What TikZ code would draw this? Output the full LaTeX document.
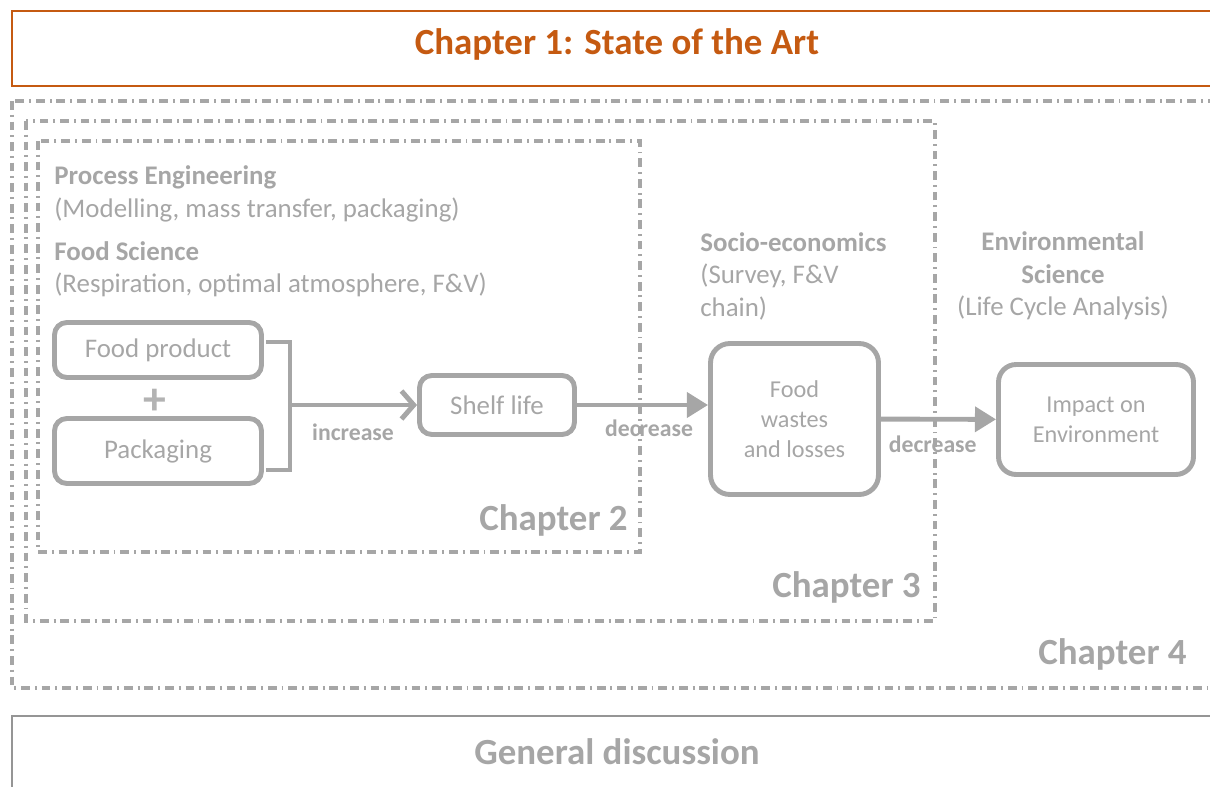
\documentclass[tikz,border=0pt]{standalone}
\usepackage{fontspec}
\setmainfont{Carlito}
\usetikzlibrary{arrows.meta}
\definecolor{chgray}{HTML}{A6A6A6}
\definecolor{chorange}{HTML}{C55A11}

\begin{document}
\begin{tikzpicture}[x=0.02cm,y=-0.02cm,
  main node/.style={draw=chgray,line width=2.8pt,rounded corners=7pt,text=chgray,align=center,font=\fontsize{15.3}{17}\selectfont},
  chap frame/.style={draw=chgray,line width=1.9pt,dash pattern=on 5pt off 2.8pt on 1.1pt off 2.8pt},
  chap label/.style={anchor=east,inner sep=0pt,text=chgray,font=\fontsize{21}{24}\selectfont\bfseries},
  topic/.style={inner sep=0pt,text=chgray,font=\fontsize{15.3}{18.5}\selectfont},
  lbl/.style={text=chgray,font=\fontsize{13.5}{15}\selectfont\bfseries},
  flow/.style={draw=chgray,line width=2.8pt}]

    \useasboundingbox (0,0) rectangle (1210,787);
    \clip (0,0) rectangle (1210,787);

    % chapter frames
    \draw[draw=chorange,line width=1.1pt] (12,11) rectangle (1240,86);
    \node[text=chorange,font=\fontsize{21}{24}\selectfont\bfseries] (t) at (617,44) {Chapter 1: State of the Art};
    \draw[chap frame] (12,101) rectangle (1240,688);
    \draw[chap frame] (26,121) rectangle (935,621);
    \draw[chap frame] (38,141) rectangle (640,552);
    \node[chap label] (c2) at (628,520) {Chapter 2};
    \node[chap label] (c3) at (921,587) {Chapter 3};
    \node[chap label] (c4) at (1187,654) {Chapter 4};
    \draw[draw=chgray!90!black,line width=1.1pt] (12,716) rectangle (1240,820);
    \node[text=chgray,font=\fontsize{21}{24}\selectfont\bfseries] (g) at (617,752) {General discussion};

    % disciplines
    \node[topic,anchor=west,align=left] (pe) at (54,194) {\textbf{Process Engineering}\\(Modelling, mass transfer, packaging)};
    \node[topic,anchor=west,align=left] (fs) at (54,269) {\textbf{Food Science}\\(Respiration, optimal atmosphere, F\&V)};
    \node[topic,anchor=west,align=left] (se) at (700,276) {\textbf{Socio-economics}\\(Survey, F\&V\\chain)};
    \node[topic,align=center] (es) at (1063,276) {\textbf{Environmental}\\\textbf{Science}\\(Life Cycle Analysis)};

    % flow
    \node[main node,minimum width=4.14cm,minimum height=1.1cm] (1) at (158,350) {Food product};
    \node[main node,minimum width=4.14cm,minimum height=1.3cm] (2) at (158,451) {Packaging};
    \node[text=chgray!85,font=\fontsize{26}{26}\selectfont\bfseries,inner sep=0pt] (p) at (155,402) {+};
    \node[main node,minimum width=3.1cm,minimum height=1.18cm] (3) at (497,405) {Shelf life};
    \node[main node,rounded corners=11pt,minimum width=3.36cm,minimum height=3.02cm,font=\fontsize{13.8}{17}\selectfont] (4) at (794.5,419) {Food\\wastes\\and losses};
    \node[main node,rounded corners=10pt,minimum width=3.9cm,minimum height=2.2cm,font=\fontsize{13.8}{17}\selectfont] (5) at (1096,419.5) {Impact on\\Environment};

    \draw[flow] (266,342) -| (290,470) -- (266,470);
    \coordinate (brk) at (289,405);
    \coordinate (a) at (3.east -| 4.west);

    \path[every edge/.style={flow}]
        (brk) edge[-{Straight Barb[length=7pt,width=16pt]}] node[lbl,below=6pt] {increase} (3)
        (3) edge[-{Triangle[length=12pt,width=14pt]}] node[lbl,below=4pt,pos=0.55] {decrease} (a)
        (4) edge[-{Triangle[length=12pt,width=14pt]}] node[lbl,below=5pt,pos=0.45] {decrease} (5)
        ;
\end{tikzpicture}
\end{document}
